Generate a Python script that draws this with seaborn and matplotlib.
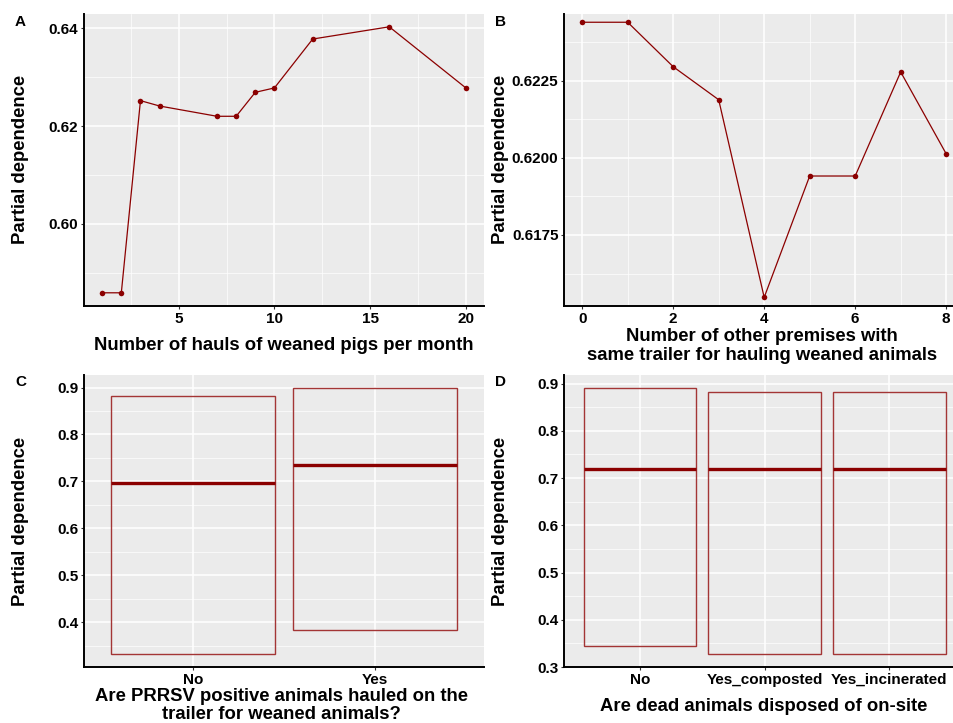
import numpy as np
import pandas as pd
import matplotlib
matplotlib.use("Agg")
import matplotlib.pyplot as plt
from matplotlib.ticker import AutoMinorLocator, FormatStrFormatter
import seaborn as sns

# Panel A: hauls of weaned pigs per month
hauls_x = [1, 2, 3, 4, 7, 8, 9, 10, 12, 16, 20]
hauls_pd = [0.5859, 0.5859, 0.6252, 0.6241, 0.6220, 0.6220, 0.6269, 0.6278, 0.6378, 0.6403, 0.6278]

# Panel B: other premises sharing the trailer
premises_x = [0, 1, 2, 3, 4, 5, 6, 7, 8]
premises_pd = [0.62439, 0.62439, 0.62295, 0.62188, 0.61548, 0.61941, 0.61941, 0.62278, 0.62013]

# Panel C: PRRSV positive animals hauled
prrsv_cats = ["No", "Yes"]
prrsv_mid = [0.697, 0.7347]
prrsv_low = [0.332, 0.3836]
prrsv_high = [0.8815, 0.8985]

# Panel D: dead animal disposal
dead_cats = ["No", "Yes_composted", "Yes_incinerated"]
dead_mid = [0.7184, 0.7191, 0.7191]
dead_low = [0.3444, 0.3275, 0.3275]
dead_high = [0.890, 0.8823, 0.8823]

sns.set_theme(style="darkgrid", rc={
    "axes.facecolor": "#EBEBEB",
    "grid.color": "white",
    "axes.edgecolor": "black",
    "text.color": "black",
    "axes.labelcolor": "black",
})
plt.rcParams["font.family"] = ["Liberation Sans", "DejaVu Sans"]
plt.rcParams["font.weight"] = "bold"

W, H = 954, 723
fig = plt.figure(figsize=(W / 100, H / 100), dpi=100)


def px_axes(left, top, right, bottom):
    return fig.add_axes([left / W, 1 - bottom / H, (right - left) / W, (bottom - top) / H])


axA = px_axes(84, 13.6, 484, 306)
axB = px_axes(564, 13.6, 953, 306)
axC = px_axes(84, 375, 484, 667.3)
axD = px_axes(564, 375, 953, 667.3)

line_col = "#8B0000"
box_col = "#A33535"

# line panels
dfA = pd.DataFrame({"x": hauls_x, "y": hauls_pd})
sns.lineplot(data=dfA, x="x", y="y", ax=axA, color=line_col, lw=0.9,
             marker="o", markersize=4, markeredgewidth=0)
axA.set_xlim(0.05, 20.95)
axA.set_ylim(0.5832, 0.6430)
axA.set_xticks([5, 10, 15, 20])
axA.set_yticks([0.60, 0.62, 0.64])
axA.yaxis.set_major_formatter(FormatStrFormatter("%.2f"))

dfB = pd.DataFrame({"x": premises_x, "y": premises_pd})
sns.lineplot(data=dfB, x="x", y="y", ax=axB, color=line_col, lw=0.9,
             marker="o", markersize=4, markeredgewidth=0)
axB.set_xlim(-0.4, 8.15)
axB.set_ylim(0.61520, 0.62467)
axB.set_xticks([0, 2, 4, 6, 8])
axB.set_yticks([0.6175, 0.6200, 0.6225])
axB.yaxis.set_major_formatter(FormatStrFormatter("%.4f"))


# crossbar panels
def crossbar(ax, cats, low, mid, high):
    pos = np.arange(len(cats))
    ax.bar(cats, np.array(high) - np.array(low), bottom=low, width=0.9,
           fill=False, edgecolor=box_col, linewidth=1.0, zorder=3)
    ax.hlines(mid, pos - 0.45, pos + 0.45, color=line_col, linewidth=2.4, zorder=4)


crossbar(axC, prrsv_cats, prrsv_low, prrsv_mid, prrsv_high)
axC.set_xlim(-0.6, 1.6)
axC.set_ylim(0.3037, 0.9268)
axC.set_yticks([0.4, 0.5, 0.6, 0.7, 0.8, 0.9])

crossbar(axD, dead_cats, dead_low, dead_mid, dead_high)
axD.set_xlim(-0.607, 2.51)
axD.set_ylim(0.2994, 0.918)
axD.set_yticks([0.3, 0.4, 0.5, 0.6, 0.7, 0.8, 0.9])

# label text, x centre (axes fraction), y centre (px below axis), line spacing
xlabels = {
    axA: ("Number of hauls of weaned pigs per month", 0.5, 39, 1.2),
    axB: ("Number of other premises with\nsame trailer for hauling weaned animals", 0.509, 40, 1.2),
    axC: ("Are PRRSV positive animals hauled on the\ntrailer for weaned animals?", 0.494, 38.5, 1.1),
    axD: ("Are dead animals disposed of on-site", 0.514, 39.4, 1.2),
}

for ax in [axA, axB, axC, axD]:
    ax.grid(True, which="major", color="white", linewidth=1.1)
    if ax in (axA, axB):
        ax.xaxis.set_minor_locator(AutoMinorLocator(2))
    ax.yaxis.set_minor_locator(AutoMinorLocator(2))
    ax.grid(True, which="minor", color="white", linewidth=0.5)
    ax.set_axisbelow(True)
    for s in ["top", "right"]:
        ax.spines[s].set_visible(False)
    for s in ["left", "bottom"]:
        ax.spines[s].set_visible(True)
        ax.spines[s].set_color("black")
        ax.spines[s].set_linewidth(1.4)
    ax.tick_params(which="major", length=2.5, width=0.8, color="#333333",
                   labelsize=11, labelcolor="black", pad=1.5, left=True, bottom=True)
    ax.tick_params(which="minor", length=0)
    for lab in ax.get_xticklabels() + ax.get_yticklabels():
        lab.set_fontweight("bold")

    bb = ax.get_position()
    wpx, hpx = bb.width * W, bb.height * H
    text, xc, dy, ls = xlabels[ax]
    ax.set_xlabel(text, fontsize=13.3, fontweight="bold", color="black",
                  va="center", linespacing=ls)
    ax.xaxis.set_label_coords(xc, -dy / hpx)
    ax.set_ylabel("Partial dependence", fontsize=13.3, fontweight="bold",
                  color="black", va="center")
    ax.yaxis.set_label_coords(-63.5 / wpx, 0.5)

# panel letters
for lx, ly, letter in [(20.5, 22.5, "A"), (500.5, 22.5, "B"),
                       (20.5, 382.5, "C"), (500.5, 382.5, "D")]:
    fig.text(lx / W, 1 - ly / H, letter, fontsize=11, fontweight="bold",
             ha="center", va="center")

fig.savefig("out.png", dpi=100, facecolor="white")
